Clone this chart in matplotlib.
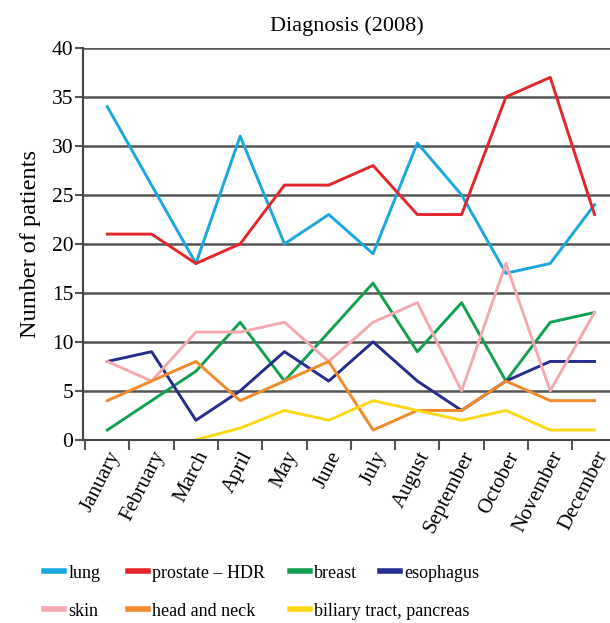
import numpy as np
from matplotlib import pyplot as plt

plt.rcParams['font.family'] = ['Liberation Serif', 'DejaVu Serif']

months = ['January', 'February', 'March', 'April', 'May', 'June', 'July',
          'August', 'September', 'October', 'November', 'December']
lung = [34, 26, 18, 31, 20, 23, 19, 30.3, 25, 17, 18, 24]
prostate = [21, 21, 18, 20, 26, 26, 28, 23, 23, 35, 37, 23]
breast = [1, 4, 7, 12, 6, 11, 16, 9, 14, 6, 12, 13]
esophagus = [8, 9, 2, 5, 9, 6, 10, 6, 3, 6, 8, 8]
skin = [8, 6, 11, 11, 12, 8, 12, 14, 5, 18, 5, 13]
head_neck = [4, 6, 8, 4, 6, 8, 1, 3, 3, 6, 4, 4]
biliary = [np.nan, np.nan, 0, 1.2, 3, 2, 4, 3, 2, 3, 1, 1]

fig = plt.figure(figsize=(6.1, 6.23), dpi=100)
ax = fig.add_axes([0.136, 0.294, 0.864, 0.629])

x = np.arange(len(months))
lines = []
lines += ax.plot(x, lung, color='#1aa7e0', lw=2.1, label='lung')
lines += ax.plot(x, prostate, color='#e3262b', lw=2.1, label='prostate – HDR')
lines += ax.plot(x, breast, color='#12a050', lw=2.1, label='breast')
lines += ax.plot(x, esophagus, color='#262d8c', lw=2.1, label='esophagus')
lines += ax.plot(x, skin, color='#f4a9b0', lw=2.1, label='skin')
lines += ax.plot(x, head_neck, color='#f08a2a', lw=2.1, label='head and neck')
lines += ax.plot(x, biliary, color='#fcd814', lw=2.1, label='biliary tract, pancreas')

ax.set_xlim(-0.55, 11.35)
ax.set_ylim(0, 40)
ax.set_yticks(range(0, 41, 5))
ax.yaxis.grid(True, color='#555555', lw=1.8)
ax.set_axisbelow(True)
for s in ['right', 'top']:
    ax.spines[s].set_visible(False)
ax.spines['left'].set_color('#444444')
ax.spines['bottom'].set_color('#444444')
ax.spines['left'].set_linewidth(1.5)
ax.spines['bottom'].set_linewidth(1.5)

ax.set_xticks(np.arange(-0.5, 11.5, 1))
ax.set_xticklabels([])
ax.set_xticks(x, minor=True)
ax.set_xticklabels(months, minor=True, rotation=63, ha='right',
                   rotation_mode='anchor', fontsize=15)
ax.tick_params(axis='x', which='minor', length=0, pad=6)
ax.tick_params(axis='x', which='major', length=7, width=1.5, color='#555555')
ax.tick_params(axis='y', length=6, width=1.5, color='#555555', labelsize=15.5, pad=1)

ax.set_title('Diagnosis (2008)', fontsize=16, pad=12)
ax.set_ylabel('Number of patients', fontsize=17.5, labelpad=8)

# legend: two rows, entries placed like the original
leg_x = [0.072, 0.21, 0.475, 0.623, 0.072, 0.21, 0.475]
leg_y = [0.080, 0.080, 0.080, 0.080, 0.019, 0.019, 0.019]
for ln, lx, ly in zip(lines, leg_x, leg_y):
    lg = fig.legend(handles=[ln], loc='center left', bbox_to_anchor=(lx, ly),
                    frameon=False, fontsize=13, handlelength=1.1,
                    handletextpad=0.25, borderpad=0, borderaxespad=0)
    for h in lg.legend_handles:
        h.set_linewidth(4)

plt.savefig('out.png', dpi=100)
